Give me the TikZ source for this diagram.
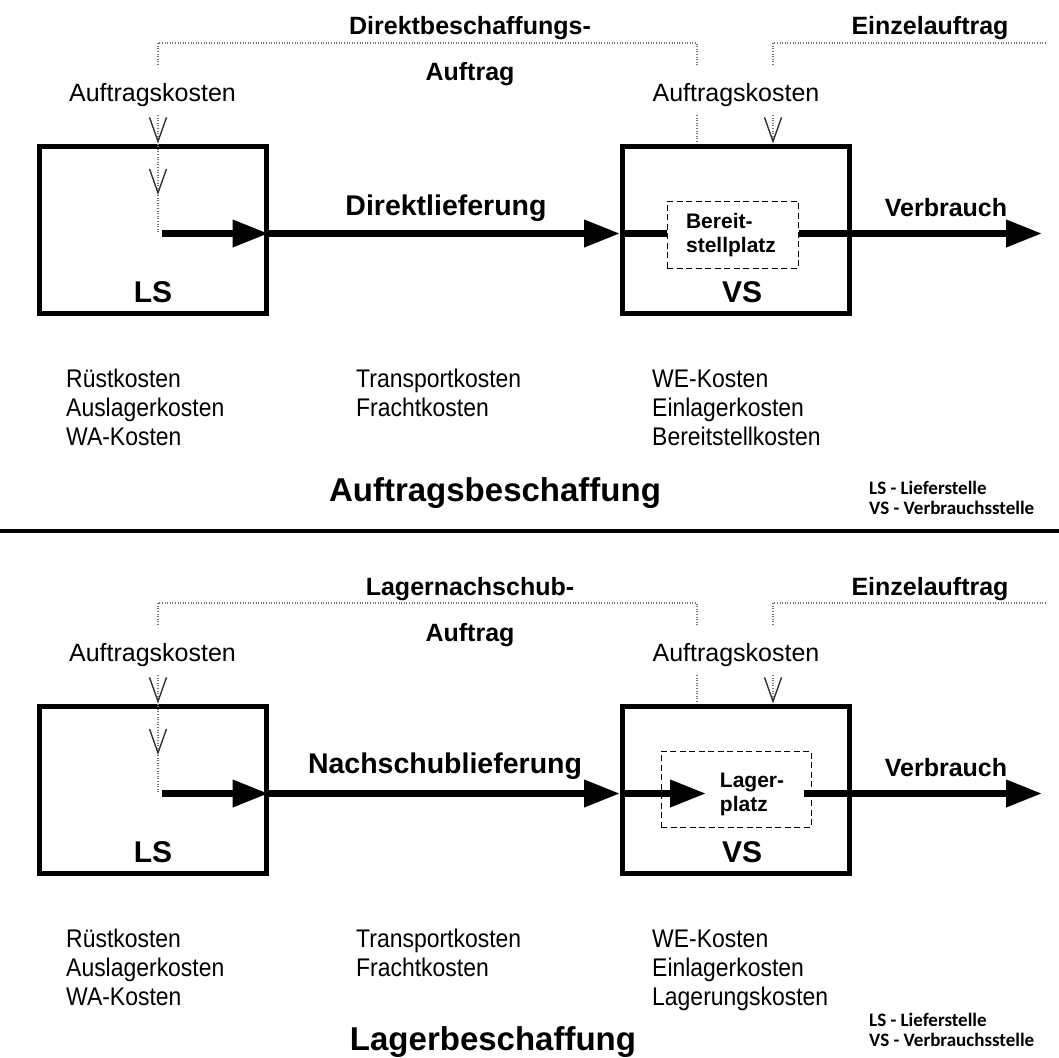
\documentclass[tikz,border=0pt]{standalone}
\usepackage{fontspec}
\setmainfont{Liberation Sans}
\newfontfamily\narrowfont[FakeStretch=0.9]{Liberation Sans}
\newfontfamily\legendfont{Carlito}
\usetikzlibrary{arrows.meta}

\tikzset{
  stelle/.style={draw, line width=5pt, minimum width=227pt, minimum height=167pt, inner sep=0pt},
  stname/.style={font=\bfseries\fontsize{30}{36}\selectfont, anchor=base, inner sep=0pt},
  platz/.style={draw, line width=1pt, dash pattern=on 6pt off 3.5pt, inner sep=0pt},
  platztext/.style={font=\bfseries\fontsize{21}{24}\selectfont, align=left, inner sep=0pt},
  head/.style={font=\bfseries\fontsize{25}{30}\selectfont, anchor=base, inner sep=0pt},
  flow/.style={font=\bfseries\fontsize{28.5}{34}\selectfont, anchor=base, inner sep=0pt},
  lbl/.style={font=\fontsize{25}{30}\selectfont, anchor=base, inner sep=0pt},
  cost/.style={font=\narrowfont\fontsize{25.5}{29}\selectfont, anchor=base west, inner sep=0pt},
  titel/.style={font=\bfseries\fontsize{33}{40}\selectfont, anchor=base, inner sep=0pt},
  legende/.style={font=\legendfont\bfseries\fontsize{19}{23}\selectfont, anchor=base west, inner sep=0pt},
  order/.style={line width=1.3pt, black!55, dash pattern=on 1pt off 1.6pt},
  vtip/.style={-{Straight Barb[length=24pt,width=17pt,line width=1.4pt,color=black!80]}},
  fat/.style={line width=7pt, -{Triangle[length=36pt,width=26pt]}},
  bar/.style={line width=7pt},
}

\begin{document}
\begin{tikzpicture}[x=1pt,y=-1pt]
\useasboundingbox (0,0) rectangle (1059,1057);

% Auftragsbeschaffung
\node[stelle] (lsA) at (152.5,229.5) {};
\node[stelle] (vsA) at (736,229.5) {};
\node[stname] (lsnameA) at (153,302) {LS};
\node[stname] (vsnameA) at (742,302) {VS};
\node[platz, minimum width=131pt, minimum height=67pt] (platzA) at (732.5,234.5) {};
\node[platztext] (bereitA) at (731,235) {Bereit-\\stellplatz};
\node[head] (dbA) at (470,35) {Direktbeschaffungs-};
\node[head] (auftragA) at (470,81) {Auftrag};
\node[head] (einzelA) at (930,35) {Einzelauftrag};
\node[lbl] (akLA) at (152.5,101) {Auftragskosten};
\node[lbl] (akRA) at (736,101) {Auftragskosten};
\node[flow] (lieferA) at (446,215) {Direktlieferung};
\node[head] (verbrA) at (946,216) {Verbrauch};

\coordinate (tLA) at (158,43);
\coordinate (tRA) at (697,43);
\coordinate (tEA) at (773,43);
\coordinate (tEndA) at (1045,43);
\coordinate (oLA) at (158,65);
\coordinate (oRA) at (697,65);
\coordinate (oEA) at (773,65);
\coordinate (uLA) at (158,115);
\coordinate (uRA) at (697,115);
\coordinate (uEA) at (773,115);
\coordinate (knickA) at (158,195);
\coordinate (startA) at (158,233.5);
\coordinate (endA) at (1042,233.5);

\draw[order] (oLA) -- (tLA) -- (tRA) -- (oRA);
\draw[order] (oEA) -- (tEA) -- (tEndA);
\draw[order,vtip] (uLA) -- (uLA |- lsA.north);
\draw[order,vtip] (uLA |- lsA.north) -- (knickA);
\draw[order] (knickA) -- (startA);
\draw[order] (uRA) -- (uRA |- vsA.north);
\draw[order,vtip] (uEA) -- (uEA |- vsA.north);

\draw[fat] ([xshift=4pt]startA) -- (lsA.east |- startA);
\draw[fat] (lsA.east |- startA) -- (vsA.west |- startA);
\draw[bar] (vsA.west |- startA) -- (platzA.west |- startA);
\draw[fat] (platzA.east |- startA) -- (endA);

\node[cost] (c1A) at (66,387) {Rüstkosten};
\node[cost] (c2A) at (66,416) {Auslagerkosten};
\node[cost] (c3A) at (66,445) {WA-Kosten};
\node[cost] (c4A) at (356,387) {Transportkosten};
\node[cost] (c5A) at (356,416) {Frachtkosten};
\node[cost] (c6A) at (652,387) {WE-Kosten};
\node[cost] (c7A) at (652,416) {Einlagerkosten};
\node[cost] (c8A) at (652,445) {Bereitstellkosten};

\node[titel] (titelA) at (495,501) {Auftragsbeschaffung};
\node[legende] (leg1A) at (869,494) {LS - Lieferstelle};
\node[legende] (leg2A) at (869,514) {VS - Verbrauchsstelle};

\coordinate (trennL) at (0,531);
\coordinate (trennR) at (1059,531);
\draw[line width=3.5pt] (trennL) -- (trennR);

% Lagerbeschaffung
\begin{scope}[yshift=-560pt]
\node[stelle] (lsB) at (152.5,229.5) {};
\node[stelle] (vsB) at (736,229.5) {};
\node[stname] (lsnameB) at (153,302) {LS};
\node[stname] (vsnameB) at (742,302) {VS};
\node[platz, minimum width=150pt, minimum height=76pt] (platzB) at (736,229) {};
\node[platztext] (lagerB) at (752,234.5) {Lager-\\platz};
\node[head] (lnB) at (470,35) {Lagernachschub-};
\node[head] (auftragB) at (470,81) {Auftrag};
\node[head] (einzelB) at (930,35) {Einzelauftrag};
\node[lbl] (akLB) at (152.5,101) {Auftragskosten};
\node[lbl] (akRB) at (736,101) {Auftragskosten};
\node[flow] (lieferB) at (445,213) {Nachschublieferung};
\node[head] (verbrB) at (946,216) {Verbrauch};

\coordinate (tLB) at (158,43);
\coordinate (tRB) at (697,43);
\coordinate (tEB) at (773,43);
\coordinate (tEndB) at (1045,43);
\coordinate (oLB) at (158,65);
\coordinate (oRB) at (697,65);
\coordinate (oEB) at (773,65);
\coordinate (uLB) at (158,115);
\coordinate (uRB) at (697,115);
\coordinate (uEB) at (773,115);
\coordinate (knickB) at (158,195);
\coordinate (startB) at (158,233.5);
\coordinate (innenB) at (706,233.5);
\coordinate (endB) at (1042,233.5);

\draw[order] (oLB) -- (tLB) -- (tRB) -- (oRB);
\draw[order] (oEB) -- (tEB) -- (tEndB);
\draw[order,vtip] (uLB) -- (uLB |- lsB.north);
\draw[order,vtip] (uLB |- lsB.north) -- (knickB);
\draw[order] (knickB) -- (startB);
\draw[order] (uRB) -- (uRB |- vsB.north);
\draw[order,vtip] (uEB) -- (uEB |- vsB.north);

\draw[fat] ([xshift=4pt]startB) -- (lsB.east |- startB);
\draw[fat] (lsB.east |- startB) -- (vsB.west |- startB);
\draw[fat] (vsB.west |- startB) -- (innenB);
\draw[fat] ([xshift=-8pt]platzB.east |- startB) -- (endB);

\node[cost] (c1B) at (66,387) {Rüstkosten};
\node[cost] (c2B) at (66,416) {Auslagerkosten};
\node[cost] (c3B) at (66,445) {WA-Kosten};
\node[cost] (c4B) at (356,387) {Transportkosten};
\node[cost] (c5B) at (356,416) {Frachtkosten};
\node[cost] (c6B) at (652,387) {WE-Kosten};
\node[cost] (c7B) at (652,416) {Einlagerkosten};
\node[cost] (c8B) at (652,445) {Lagerungskosten};

\node[titel] (titelB) at (493,490) {Lagerbeschaffung};
\node[legende] (leg1B) at (869,466) {LS - Lieferstelle};
\node[legende] (leg2B) at (869,486) {VS - Verbrauchsstelle};
\end{scope}
\end{tikzpicture}
\end{document}
